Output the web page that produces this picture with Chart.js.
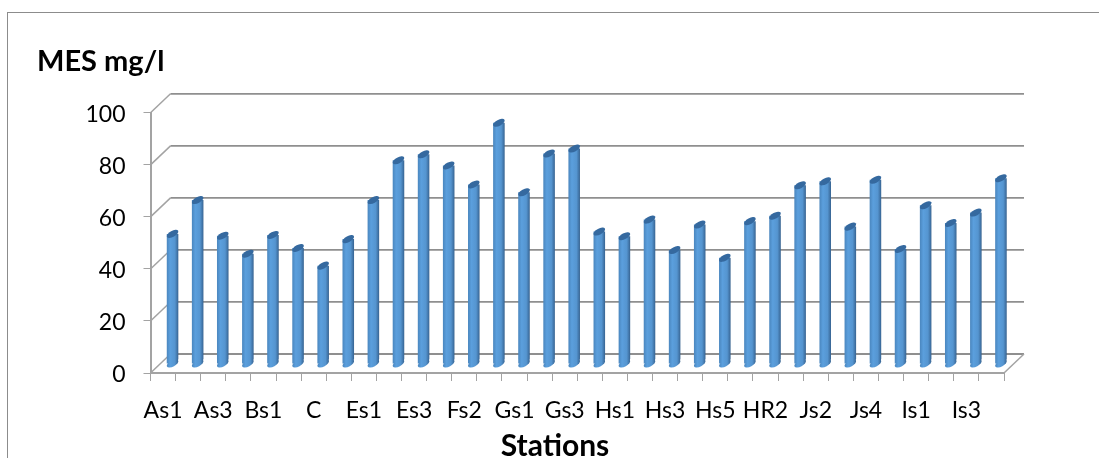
<!DOCTYPE html>
<html lang="en">
<head>
    <meta charset="UTF-8">
    <title>MES mg/l</title>
    <script src="https://cdn.jsdelivr.net/npm/chart.js"></script>
    <style>
        html, body {
            margin: 0;
            padding: 0;
            background: white;
            overflow: hidden;
        }
        #frame {
            position: absolute;
            left: 7px;
            top: 12px;
            right: 0;
            bottom: 0;
            border-left: 1.5px solid #8c8c8c;
            border-top: 1.5px solid #8c8c8c;
        }
        canvas {
            position: absolute;
            left: 0;
            top: 0;
        }
    </style>
</head>
<body>
    <div id="frame"></div>
    <canvas id="mesChart" width="1099" height="458"></canvas>

    <script>
        const categories = ['As1', 'As2', 'As3', 'As4', 'Bs1', 'Bs2', 'C', 'D', 'Es1', 'Es2', 'Es3', 'Es4',
            'Fs2', 'Fs3', 'Gs1', 'Gs2', 'Gs3', 'Gs4', 'Hs1', 'Hs2', 'Hs3', 'Hs4', 'Hs5', 'HR1', 'HR2',
            'Js1', 'Js2', 'Js3', 'Js4', 'Js5', 'Is1', 'Is2', 'Is3', 'Is4'];
        const mesValues = [50, 63, 49.3, 42.4, 49.6, 44.6, 37.8, 48, 63, 78.3, 80.6, 76.3,
            69, 92.7, 66, 80.9, 82.8, 50.9, 49.1, 55.5, 43.8, 53.6, 40.8, 54.9, 57,
            68.7, 70.2, 52.8, 70.8, 44.2, 61, 54.2, 58.2, 71.4];

        const fontName = 'Lato, "Open Sans", sans-serif';

        // fake Excel style 3D: back wall offset and how far the bars sit inside the box
        const wallX = 20, wallY = 19;
        const barShiftX = 9.5, barShiftY = -9;

        function barGradient(context) {
            const chart = context.chart;
            if (!chart.chartArea) return '#5b9bd5';
            const x = chart.scales.x.getPixelForValue(context.dataIndex);
            const g = chart.ctx.createLinearGradient(x - 5.8, 0, x + 5.8, 0);
            g.addColorStop(0, '#4a86be');
            g.addColorStop(0.3, '#5b9fdd');
            g.addColorStop(0.7, '#5595d0');
            g.addColorStop(0.92, '#3f71a3');
            g.addColorStop(1, '#35608c');
            return g;
        }

        const fake3d = {
            id: 'fake3d',
            beforeDatasetsDraw(chart) {
                const ctx = chart.ctx, x = chart.scales.x, y = chart.scales.y;
                ctx.save();
                y.ticks.forEach(t => {
                    const py = y.getPixelForValue(t.value);
                    ctx.strokeStyle = '#a3a3a3';
                    ctx.lineWidth = 1.5;
                    ctx.beginPath();
                    ctx.moveTo(x.left, py);
                    ctx.lineTo(x.left + wallX, py - wallY);
                    ctx.stroke();
                    ctx.strokeStyle = '#8f8f8f';
                    ctx.lineWidth = 1.8;
                    ctx.beginPath();
                    ctx.moveTo(x.left + wallX, py - wallY);
                    ctx.lineTo(x.right + wallX, py - wallY);
                    ctx.stroke();
                });
                // right edge of the floor
                const y0 = y.getPixelForValue(0);
                ctx.strokeStyle = '#a3a3a3';
                ctx.lineWidth = 1.5;
                ctx.beginPath();
                ctx.moveTo(x.right, y0);
                ctx.lineTo(x.right + wallX, y0 - wallY);
                ctx.stroke();
                ctx.restore();
            },
            beforeDatasetDraw(chart) {
                chart.ctx.save();
                chart.ctx.translate(barShiftX, barShiftY);
            },
            afterDatasetDraw(chart, args) {
                const ctx = chart.ctx;
                args.meta.data.forEach((bar, i) => {
                    // rounded foot
                    ctx.fillStyle = barGradient({ chart: chart, dataIndex: i });
                    ctx.beginPath();
                    ctx.ellipse(bar.x, bar.base, 6.4, 3, -0.5, 0, Math.PI * 2);
                    ctx.fill();
                    // top cap
                    ctx.fillStyle = '#35699f';
                    ctx.beginPath();
                    ctx.ellipse(bar.x, bar.y, 6.4, 3, -0.5, 0, Math.PI * 2);
                    ctx.fill();
                });
                ctx.restore();
            },
            afterDraw(chart) {
                const ctx = chart.ctx;
                ctx.save();
                ctx.fillStyle = '#000';
                ctx.font = 'bold 30px ' + fontName;
                ctx.textAlign = 'center';
                ctx.textBaseline = 'middle';
                ctx.fillText('Stations', 555, 446);
                ctx.restore();
            }
        };

        new Chart(document.getElementById('mesChart').getContext('2d'), {
            type: 'bar',
            data: {
                labels: categories,
                datasets: [{
                    label: 'MES mg/l',
                    data: mesValues,
                    backgroundColor: barGradient,
                    borderWidth: 0,
                    borderSkipped: false,
                    borderRadius: { topLeft: 0, topRight: 0, bottomLeft: 0, bottomRight: 5 },
                    barPercentage: 0.46,
                    categoryPercentage: 1,
                    clip: false
                }]
            },
            options: {
                responsive: false,
                animation: false,
                layout: { padding: { left: 37, right: 95, top: 44, bottom: 0 } },
                plugins: {
                    legend: { display: false },
                    tooltip: { enabled: false },
                    title: {
                        display: true,
                        text: 'MES mg/l',
                        align: 'start',
                        color: '#000',
                        font: { family: fontName, size: 29, weight: 'bold', lineHeight: 1.2 },
                        padding: { top: 0, bottom: 34 }
                    }
                },
                scales: {
                    x: {
                        afterFit(scale) { scale.height = 85; },
                        grid: { drawOnChartArea: false, tickLength: 8, color: '#a3a3a3' },
                        border: { color: '#a3a3a3', width: 2 },
                        ticks: {
                            autoSkip: false,
                            maxRotation: 0,
                            padding: 16,
                            color: '#000',
                            font: { family: fontName, size: 23 },
                            callback: (v, i) => i % 2 === 0 ? categories[i] : ''
                        }
                    },
                    y: {
                        min: 0,
                        max: 100,
                        afterFit(scale) { scale.width = 113.5; },
                        grid: { drawOnChartArea: false, tickLength: 7, color: '#a3a3a3' },
                        border: { color: '#a3a3a3', width: 2 },
                        ticks: {
                            stepSize: 20,
                            padding: 18,
                            labelOffset: 2,
                            color: '#000',
                            font: { family: fontName, size: 23 }
                        }
                    }
                }
            },
            plugins: [fake3d]
        });
    </script>
</body>
</html>
